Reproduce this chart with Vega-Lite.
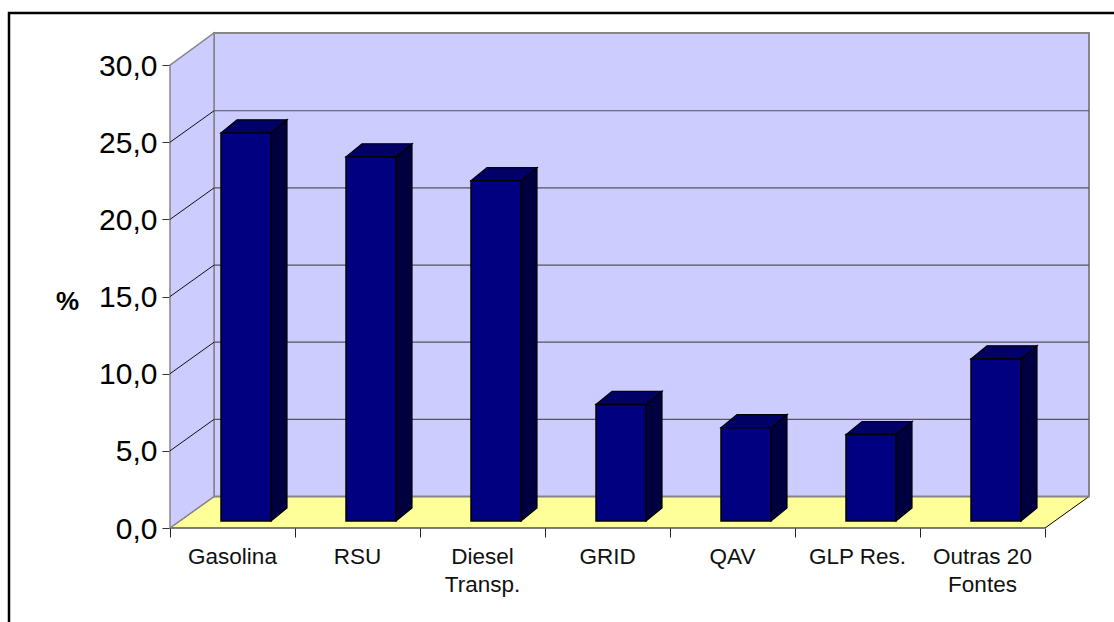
{
"$schema":"https://vega.github.io/schema/vega-lite/v6.json",
"width":919,"height":495,
"autosize":{"type":"none"},
"padding":{"left":170,"top":33,"right":25,"bottom":94},
"background":"#ffffff",
"config":{"view":{"stroke":null},"font":"Liberation Sans"},
"datasets":{
"frame":[{"x":-1.288,"x2":8,"y":-8,"y2":33.38}],
"wall":[{"x":0.352,"x2":7.352,"y":2.04,"y2":32.08}],
"side":[{"x":0,"lo":0,"hi":30},{"x":0.352,"lo":2.04,"hi":32.08}],
"floor":[{"x":0,"lo":0,"hi":0},{"x":0.352,"lo":0,"hi":2.04},{"x":7,"lo":0,"hi":2.04},{"x":7.352,"lo":2.04,"hi":2.04}],
"grid":[{"v":5,"x":0.352,"x2":7.352,"y":7.04},{"v":10,"x":0.352,"x2":7.352,"y":12.04},{"v":15,"x":0.352,"x2":7.352,"y":17.04},{"v":20,"x":0.352,"x2":7.352,"y":22.04},{"v":25,"x":0.352,"x2":7.352,"y":27.04}],
"diag":[{"v":5,"x":0,"y":5},{"v":5,"x":0.352,"y":7.04},{"v":10,"x":0,"y":10},{"v":10,"x":0.352,"y":12.04},{"v":15,"x":0,"y":15},{"v":15,"x":0.352,"y":17.04},{"v":20,"x":0,"y":20},{"v":20,"x":0.352,"y":22.04},{"v":25,"x":0,"y":25},{"v":25,"x":0.352,"y":27.04}],
"bars":[
{"fonte":"Gasolina","label":"Gasolina","x0":0.408,"x1":0.808,"c":0.5,"valor":25.15,"base":0},
{"fonte":"RSU","label":"RSU","x0":1.408,"x1":1.808,"c":1.5,"valor":23.6,"base":0},
{"fonte":"Diesel Transp.","label":"Diesel\nTransp.","x0":2.408,"x1":2.808,"c":2.5,"valor":22.05,"base":0},
{"fonte":"GRID","label":"GRID","x0":3.408,"x1":3.808,"c":3.5,"valor":7.55,"base":0},
{"fonte":"QAV","label":"QAV","x0":4.408,"x1":4.808,"c":4.5,"valor":6.05,"base":0},
{"fonte":"GLP Res.","label":"GLP Res.","x0":5.408,"x1":5.808,"c":5.5,"valor":5.6,"base":0},
{"fonte":"Outras 20 Fontes","label":"Outras 20\nFontes","x0":6.408,"x1":6.808,"c":6.5,"valor":10.5,"base":0}],
"sides":[
{"f":"G","x":0.808,"lo":0,"hi":25.15},{"f":"G","x":0.936,"lo":0.85,"hi":26.0},
{"f":"R","x":1.808,"lo":0,"hi":23.6},{"f":"R","x":1.936,"lo":0.85,"hi":24.45},
{"f":"D","x":2.808,"lo":0,"hi":22.05},{"f":"D","x":2.936,"lo":0.85,"hi":22.9},
{"f":"Gr","x":3.808,"lo":0,"hi":7.55},{"f":"Gr","x":3.936,"lo":0.85,"hi":8.4},
{"f":"Q","x":4.808,"lo":0,"hi":6.05},{"f":"Q","x":4.936,"lo":0.85,"hi":6.9},
{"f":"L","x":5.808,"lo":0,"hi":5.6},{"f":"L","x":5.936,"lo":0.85,"hi":6.45},
{"f":"O","x":6.808,"lo":0,"hi":10.5},{"f":"O","x":6.936,"lo":0.85,"hi":11.35}],
"tops":[
{"f":"G","x":0.408,"lo":25.15,"hi":25.15},{"f":"G","x":0.536,"lo":25.15,"hi":26.0},{"f":"G","x":0.808,"lo":25.15,"hi":26.0},{"f":"G","x":0.936,"lo":26.0,"hi":26.0},
{"f":"R","x":1.408,"lo":23.6,"hi":23.6},{"f":"R","x":1.536,"lo":23.6,"hi":24.45},{"f":"R","x":1.808,"lo":23.6,"hi":24.45},{"f":"R","x":1.936,"lo":24.45,"hi":24.45},
{"f":"D","x":2.408,"lo":22.05,"hi":22.05},{"f":"D","x":2.536,"lo":22.05,"hi":22.9},{"f":"D","x":2.808,"lo":22.05,"hi":22.9},{"f":"D","x":2.936,"lo":22.9,"hi":22.9},
{"f":"Gr","x":3.408,"lo":7.55,"hi":7.55},{"f":"Gr","x":3.536,"lo":7.55,"hi":8.4},{"f":"Gr","x":3.808,"lo":7.55,"hi":8.4},{"f":"Gr","x":3.936,"lo":8.4,"hi":8.4},
{"f":"Q","x":4.408,"lo":6.05,"hi":6.05},{"f":"Q","x":4.536,"lo":6.05,"hi":6.9},{"f":"Q","x":4.808,"lo":6.05,"hi":6.9},{"f":"Q","x":4.936,"lo":6.9,"hi":6.9},
{"f":"L","x":5.408,"lo":5.6,"hi":5.6},{"f":"L","x":5.536,"lo":5.6,"hi":6.45},{"f":"L","x":5.808,"lo":5.6,"hi":6.45},{"f":"L","x":5.936,"lo":6.45,"hi":6.45},
{"f":"O","x":6.408,"lo":10.5,"hi":10.5},{"f":"O","x":6.536,"lo":10.5,"hi":11.35},{"f":"O","x":6.808,"lo":10.5,"hi":11.35},{"f":"O","x":6.936,"lo":11.35,"hi":11.35}]
},
"layer":[
{"data":{"name":"frame"},"mark":{"type":"rect","fill":null,"stroke":"#000000","strokeWidth":2.5,"clip":false},
 "encoding":{
  "x":{"field":"x","type":"quantitative","scale":{"domain":[0,7.352],"nice":false,"zero":false},
   "axis":{"values":[0,1,2,3,4,5,6,7],"title":null,"labels":false,"domain":false,"grid":false,"tickSize":9,"tickColor":"#222222","tickWidth":1}},
  "x2":{"field":"x2"},
  "y":{"field":"y","type":"quantitative","scale":{"domain":[0,32.08],"nice":false,"zero":false},
   "axis":{"values":[0,5,10,15,20,25,30],"title":"%","titleAngle":0,"titleFontWeight":"bold","titleFontSize":26,"titleFont":"Liberation Sans","titleColor":"#000000","titleX":-103,"titleY":281,"titleAlign":"center","labelExpr":"replace(format(datum.value,'.1f'),'.',',')","labelFontSize":30,"labelFont":"Liberation Sans","labelColor":"#000000","labelPadding":5,"labelOffset":1,"domain":false,"grid":false,"tickSize":8,"tickColor":"#333333","tickWidth":1}},
  "y2":{"field":"y2"}}},
{"data":{"name":"floor"},"mark":{"type":"area","fill":"#FFFF99","stroke":"#000000","strokeWidth":1},
 "encoding":{"x":{"field":"x","type":"quantitative"},"y":{"field":"lo","type":"quantitative"},"y2":{"field":"hi"}}},
{"data":{"name":"wall"},"mark":{"type":"rect","fill":"#CCCCFF","stroke":"#868686","strokeWidth":2},
 "encoding":{"x":{"field":"x","type":"quantitative"},"x2":{"field":"x2"},"y":{"field":"y","type":"quantitative"},"y2":{"field":"y2"}}},
{"data":{"name":"side"},"mark":{"type":"area","fill":"#CCCCFF","stroke":"#868686","strokeWidth":1.5},
 "encoding":{"x":{"field":"x","type":"quantitative"},"y":{"field":"lo","type":"quantitative"},"y2":{"field":"hi"}}},
{"data":{"name":"grid"},"mark":{"type":"rule","stroke":"#55555f","strokeWidth":1.2},
 "encoding":{"x":{"field":"x","type":"quantitative"},"x2":{"field":"x2"},"y":{"field":"y","type":"quantitative"}}},
{"data":{"name":"diag"},"mark":{"type":"line","stroke":"#111111","strokeWidth":1},
 "encoding":{"x":{"field":"x","type":"quantitative"},"y":{"field":"y","type":"quantitative"},"detail":{"field":"v"}}},
{"data":{"name":"sides"},"mark":{"type":"area","fill":"#000040","stroke":"#000000","strokeWidth":1.2,"yOffset":-7,"y2Offset":-7},
 "encoding":{"x":{"field":"x","type":"quantitative"},"y":{"field":"lo","type":"quantitative"},"y2":{"field":"hi"},"detail":{"field":"f"}}},
{"data":{"name":"tops"},"mark":{"type":"area","fill":"#000066","stroke":"#000000","strokeWidth":1.2,"yOffset":-7,"y2Offset":-7},
 "encoding":{"x":{"field":"x","type":"quantitative"},"y":{"field":"lo","type":"quantitative"},"y2":{"field":"hi"},"detail":{"field":"f"}}},
{"data":{"name":"bars"},"mark":{"type":"rect","fill":"#000080","stroke":"#000000","strokeWidth":1.5,"yOffset":-7,"y2Offset":-7},
 "encoding":{"x":{"field":"x0","type":"quantitative"},"x2":{"field":"x1"},"y":{"field":"valor","type":"quantitative"},"y2":{"field":"base"}}},
{"data":{"name":"bars"},"mark":{"type":"text","fontSize":22.5,"font":"Liberation Sans","color":"#111111","baseline":"top","align":"center","lineBreak":"\n","lineHeight":28,"yOffset":18},
 "encoding":{"x":{"field":"c","type":"quantitative"},"y":{"field":"base","type":"quantitative"},"text":{"field":"label"}}}
]
}
